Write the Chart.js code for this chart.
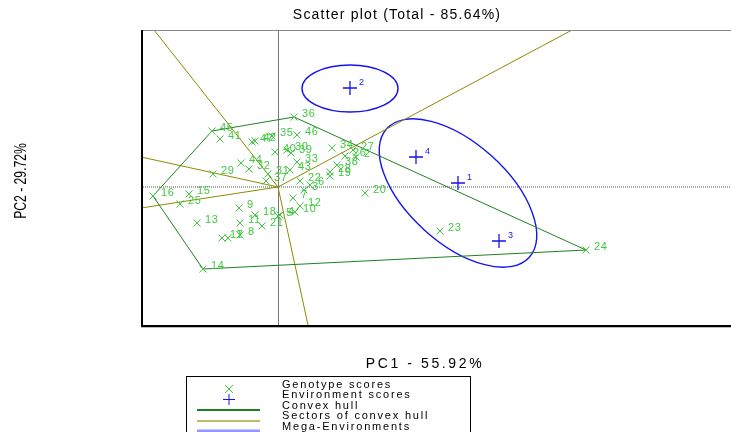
<!DOCTYPE html>
<html>
<head>
<meta charset="utf-8">
<title>Scatter plot</title>
<script src="https://cdn.jsdelivr.net/npm/chart.js@4.4.1/dist/chart.umd.min.js"></script>
<style>
  html, body { margin: 0; padding: 0; background: #fff; }
  canvas { display: block; }
</style>
</head>
<body>
<canvas id="myChart" width="731" height="432"></canvas>
<script>
// genotype scores (PC1, PC2)
const genoIds = [1, 2, 3, 4, 5, 6, 7, 8, 9, 10, 11, 12, 13, 14, 15, 16,
  17, 18, 19, 20, 21, 22, 23, 24, 25, 26, 27, 28, 29, 30, 31, 32,
  33, 34, 35, 36, 37, 38, 39, 40, 41, 42, 43, 44, 45, 46, 47];
const genoPC1 = [-1.00, 1.56, 0.52, 0.04, 0.00, 0.64, 0.30, -0.76, -0.78, 0.34, -0.76, 0.44, -1.62, -1.50, -1.78, -2.50,
  -1.12, -0.46, 1.04, 1.74, -0.32, 0.44, 3.24, 6.16, -1.96, 1.34, 1.50, 1.04, -1.30, 0.18, -0.20, -0.58,
  0.38, 1.08, -0.12, 0.32, -0.24, 1.18, 0.26, -0.06, -1.16, -0.46, 0.24, -0.74, -1.32, 0.38, -0.52];
const genoPC2 = [-1.02, 0.60, -0.06, -0.56, -0.58, 0.04, -0.22, -0.96, -0.42, -0.50, -0.72, -0.38, -0.72, -1.64, -0.14, -0.18,
  -1.02, -0.56, 0.22, -0.12, -0.78, 0.12, -0.88, -1.26, -0.34, 0.62, 0.74, 0.30, 0.26, 0.74, 0.26, 0.36,
  0.50, 0.78, 1.02, 1.40, 0.12, 0.44, 0.68, 0.70, 0.96, 0.92, 0.34, 0.48, 1.12, 1.04, 0.90];

// environment scores
const envIds = [1, 2, 3, 4];
const envPC1 = [3.60, 1.44, 4.42, 2.76];
const envPC2 = [0.08, 1.98, -1.08, 0.60];

// convex hull vertices (genotype ids, closed)
const hullIds = [36, 24, 14, 16, 45, 36];

// sector rays, from origin to the plot edge
const sectorPC1 = [-2.48, 5.88, -2.74, -2.74, 0.60];
const sectorPC2 = [3.14, 3.14, 0.60, -0.42, -2.76];

// mega-environment ellipses
const ellipseCX = [1.44, 3.60];
const ellipseCY = [1.97, -0.12];
const ellipseRX = [0.96, 1.92];
const ellipseRY = [0.47, 1.00];
const ellipseAngle = [0, -42];

const pc1Range = [-2.74, 9.06];
const pc2Range = [-2.76, 3.14];

const GREEN = 'rgb(64,200,64)';
const HULL = 'rgb(30,128,30)';
const OLIVE = 'rgb(140,140,0)';
const BLUE = 'rgb(20,20,235)';
const FONT = "'Liberation Sans', Arial, sans-serif";

const genoPoints = genoIds.map((id, i) => ({ x: genoPC1[i], y: genoPC2[i] }));
const envPoints = envIds.map((id, i) => ({ x: envPC1[i], y: envPC2[i] }));
const hullPoints = hullIds.map(id => genoPoints[genoIds.indexOf(id)]);
const sectorSets = sectorPC1.map((x, i) => ({
    type: 'scatter',
    data: [{ x: 0, y: 0 }, { x: x, y: sectorPC2[i] }],
    showLine: true,
    borderColor: OLIVE,
    borderWidth: 1,
    pointRadius: 0,
    order: 3
}));

function spaced(ctx, text, x, y, sp) {
    ctx.letterSpacing = sp + 'px';
    ctx.fillText(text, x, y);
    ctx.letterSpacing = '0px';
}

const biplot = {
    id: 'biplot',
    beforeDatasetsDraw(chart) {
        const { ctx, chartArea: a, scales: { x, y } } = chart;
        const ox = x.getPixelForValue(0), oy = y.getPixelForValue(0);
        ctx.save();
        ctx.beginPath();
        ctx.rect(a.left, a.top, a.right - a.left, a.bottom - a.top);
        ctx.clip();
        // origin lines
        ctx.strokeStyle = '#777';
        ctx.lineWidth = 1;
        ctx.beginPath();
        ctx.moveTo(Math.round(ox) + 0.5, a.top);
        ctx.lineTo(Math.round(ox) + 0.5, a.bottom);
        ctx.stroke();
        ctx.strokeStyle = '#aaa';
        ctx.lineWidth = 2;
        ctx.setLineDash([1, 1]);
        ctx.beginPath();
        ctx.moveTo(a.left, Math.round(oy));
        ctx.lineTo(a.right, Math.round(oy));
        ctx.stroke();
        ctx.setLineDash([]);
        // ellipses
        const kx = Math.abs(x.getPixelForValue(1) - ox);
        const ky = Math.abs(y.getPixelForValue(1) - oy);
        ctx.strokeStyle = BLUE;
        ctx.lineWidth = 1.4;
        ellipseCX.forEach((cx, i) => {
            ctx.beginPath();
            ctx.ellipse(x.getPixelForValue(cx), y.getPixelForValue(ellipseCY[i]),
                ellipseRX[i] * kx, ellipseRY[i] * ky, -ellipseAngle[i] * Math.PI / 180, 0, 2 * Math.PI);
            ctx.stroke();
        });
        ctx.restore();
    },
    afterDatasetsDraw(chart) {
        const { ctx, scales: { x, y } } = chart;
        ctx.save();
        ctx.textBaseline = 'middle';
        ctx.fillStyle = GREEN;
        ctx.font = '11px ' + FONT;
        genoIds.forEach((id, i) => {
            spaced(ctx, String(id), x.getPixelForValue(genoPC1[i]) + 8, y.getPixelForValue(genoPC2[i]) - 3, 0.6);
        });
        ctx.fillStyle = BLUE;
        ctx.font = '9px ' + FONT;
        envIds.forEach((id, i) => {
            ctx.fillText(String(id), x.getPixelForValue(envPC1[i]) + 9, y.getPixelForValue(envPC2[i]) - 5);
        });
        ctx.restore();
    },
    afterDraw(chart) {
        const { ctx, chartArea: a } = chart;
        ctx.save();
        // frame
        ctx.strokeStyle = '#888';
        ctx.lineWidth = 1;
        ctx.beginPath();
        ctx.moveTo(a.left, a.top + 0.5);
        ctx.lineTo(a.right, a.top + 0.5);
        ctx.stroke();
        ctx.strokeStyle = '#000';
        ctx.lineWidth = 2;
        ctx.beginPath();
        ctx.moveTo(a.left + 1, a.top);
        ctx.lineTo(a.left + 1, a.bottom + 1);
        ctx.lineTo(a.right, a.bottom + 1);
        ctx.stroke();
        ctx.strokeStyle = '#bbb';
        ctx.lineWidth = 1;
        ctx.beginPath();
        ctx.moveTo(a.left, a.bottom + 2.5);
        ctx.lineTo(a.right, a.bottom + 2.5);
        ctx.stroke();

        // titles
        ctx.fillStyle = '#000';
        ctx.textAlign = 'center';
        ctx.textBaseline = 'middle';
        ctx.font = '14px ' + FONT;
        spaced(ctx, 'Scatter plot (Total - 85.64%)', 397, 15, 1.2);
        spaced(ctx, 'PC1 - 55.92%', 425, 364, 2.6);
        ctx.save();
        ctx.translate(22, 181);
        ctx.rotate(-Math.PI / 2);
        ctx.scale(0.76, 1);
        ctx.font = '16px ' + FONT;
        ctx.fillText('PC2 - 29.72%', 0, 0);
        ctx.restore();

        // legend
        ctx.strokeStyle = '#000';
        ctx.lineWidth = 1;
        ctx.strokeRect(186.5, 376.5, 284, 70);
        ctx.textAlign = 'left';
        ctx.font = '11px ' + FONT;
        const rows = ['Genotype scores', 'Environment scores', 'Convex hull', 'Sectors of convex hull', 'Mega-Environments'];
        rows.forEach((t, i) => spaced(ctx, t, 282, 385 + i * 10.4, 1.8));
        ctx.lineWidth = 1;
        ctx.strokeStyle = GREEN;
        ctx.beginPath();
        ctx.moveTo(225, 385); ctx.lineTo(233, 393);
        ctx.moveTo(233, 385); ctx.lineTo(225, 393);
        ctx.stroke();
        ctx.strokeStyle = BLUE;
        ctx.beginPath();
        ctx.moveTo(223, 399.5); ctx.lineTo(235, 399.5);
        ctx.moveTo(229, 394); ctx.lineTo(229, 405);
        ctx.stroke();
        [[HULL, 410, 2], ['rgb(190,190,100)', 421, 2], ['rgb(150,150,255)', 431, 3]].forEach(([c, yy, w]) => {
            ctx.strokeStyle = c;
            ctx.lineWidth = w;
            ctx.beginPath();
            ctx.moveTo(197, yy);
            ctx.lineTo(260, yy);
            ctx.stroke();
        });
        ctx.restore();
    }
};

const config = {
    type: 'scatter',
    data: {
        datasets: [
            {
                label: 'Genotype scores',
                data: genoPoints,
                pointStyle: 'crossRot',
                pointRadius: 5,
                borderColor: GREEN,
                backgroundColor: GREEN,
                borderWidth: 1,
                order: 1
            },
            {
                label: 'Environment scores',
                data: envPoints,
                pointStyle: 'cross',
                pointRadius: 7,
                borderColor: BLUE,
                backgroundColor: BLUE,
                borderWidth: 1.3,
                order: 0
            },
            {
                label: 'Convex hull',
                data: hullPoints,
                showLine: true,
                borderColor: HULL,
                borderWidth: 1,
                pointRadius: 0,
                order: 2
            },
            ...sectorSets
        ]
    },
    options: {
        responsive: false,
        animation: false,
        devicePixelRatio: 1,
        events: [],
        layout: { autoPadding: false, padding: { left: 141, top: 30, right: 0, bottom: 107 } },
        plugins: { legend: { display: false }, title: { display: false }, tooltip: { enabled: false } },
        scales: {
            x: { type: 'linear', display: false, min: pc1Range[0], max: pc1Range[1] },
            y: { type: 'linear', display: false, min: pc2Range[0], max: pc2Range[1] }
        }
    },
    plugins: [biplot]
};

const myChart = new Chart(document.getElementById('myChart'), config);
</script>
</body>
</html>
